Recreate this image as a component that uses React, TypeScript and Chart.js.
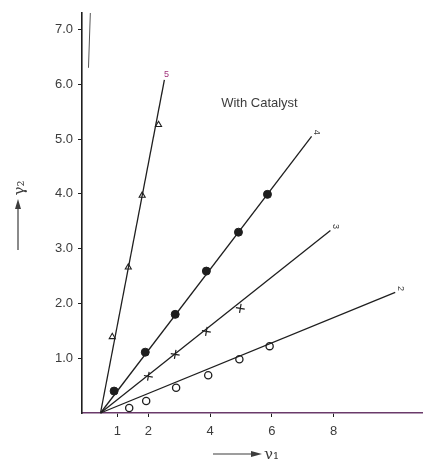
import React, { useEffect, useRef } from "react";
import { Chart, registerables } from "chart.js";

Chart.register(...registerables);

// ---- data ----
const lineLabels = ["5", "4", "3", "2"];
const lineStartX = 0.45;
const lineEndX = [2.52, 7.29, 7.9, 10.0];
const lineEndY = [6.08, 5.05, 3.33, 2.2];

const triX = [0.83, 1.35, 1.8, 2.33];
const triY = [1.39, 2.66, 3.97, 5.26];
const dotX = [0.89, 1.9, 2.87, 3.88, 4.92, 5.86];
const dotY = [0.4, 1.11, 1.8, 2.59, 3.3, 3.99];
const crossX = [2.0, 2.87, 3.88, 4.98];
const crossY = [0.67, 1.07, 1.49, 1.91];
const ringX = [1.38, 1.93, 2.9, 3.94, 4.95, 5.93];
const ringY = [0.09, 0.22, 0.46, 0.69, 0.98, 1.22];

const strayX = [0.06, 0.12];
const strayY = [6.3, 7.3];

const xTickValues = [1, 2, 4, 6, 8];
const yTickValues = [1, 2, 3, 4, 5, 6, 7];
const annotationText = "With Catalyst";

const INK = "#1e1e1e";
const TEXT = "#3c3c3c";
const FONT = "'Liberation Sans', Arial, sans-serif";

const pts = (xs: number[], ys: number[]) => xs.map((x, i) => ({ x, y: ys[i] }));

export default function App() {
  const ref = useRef<HTMLCanvasElement | null>(null);

  useEffect(() => {
    document.body.style.margin = "0";
    const canvas = ref.current;
    if (!canvas) return;

    const lineSets = lineLabels.map((lab, i) => ({
      label: "line " + lab,
      data: [
        { x: lineStartX, y: 0 },
        { x: lineEndX[i], y: lineEndY[i] },
      ],
      showLine: true,
      borderColor: INK,
      borderWidth: 1.3,
      pointRadius: 0,
      fill: false,
    }));

    const annot = {
      id: "annot",
      afterDraw(chart: any) {
        const ctx = chart.ctx;
        const xs = chart.scales.x;
        const ys = chart.scales.y;
        ctx.save();
        // "With Catalyst"
        ctx.fillStyle = TEXT;
        ctx.font = `13px ${FONT}`;
        ctx.textAlign = "center";
        ctx.textBaseline = "middle";
        ctx.fillText(annotationText, xs.getPixelForValue(5.6), ys.getPixelForValue(5.65));

        // line end labels
        ctx.font = `9px ${FONT}`;
        lineLabels.forEach((lab, i) => {
          const px = xs.getPixelForValue(lineEndX[i]);
          const py = ys.getPixelForValue(lineEndY[i]);
          ctx.save();
          if (i === 0) {
            ctx.fillStyle = "#a0307a";
            ctx.translate(px + 2, py - 5);
          } else {
            ctx.translate(px + 5, py - 4);
            ctx.rotate(Math.PI / 2);
          }
          ctx.fillText(lab, 0, 0);
          ctx.restore();
        });

        // y axis title: arrow up + gamma2 rotated
        ctx.strokeStyle = TEXT;
        ctx.fillStyle = TEXT;
        ctx.lineWidth = 1.2;
        const ax = 18;
        ctx.beginPath();
        ctx.moveTo(ax, 250);
        ctx.lineTo(ax, 206);
        ctx.stroke();
        ctx.beginPath();
        ctx.moveTo(ax, 199);
        ctx.lineTo(ax - 3, 209);
        ctx.lineTo(ax + 3, 209);
        ctx.closePath();
        ctx.fill();
        ctx.save();
        ctx.translate(ax + 2, 188);
        ctx.rotate(-Math.PI / 2);
        ctx.font = `15px 'DejaVu Serif', serif`;
        ctx.textAlign = "center";
        ctx.textBaseline = "middle";
        ctx.fillText("γ₂", 0, 0);
        ctx.restore();

        // x axis title: arrow right + gamma1
        const ay = 454;
        ctx.beginPath();
        ctx.moveTo(213, ay);
        ctx.lineTo(253, ay);
        ctx.stroke();
        ctx.beginPath();
        ctx.moveTo(262, ay);
        ctx.lineTo(251, ay - 3);
        ctx.lineTo(251, ay + 3);
        ctx.closePath();
        ctx.fill();
        ctx.font = `15px 'DejaVu Serif', serif`;
        ctx.textAlign = "left";
        ctx.textBaseline = "middle";
        ctx.fillText("γ₁", 264, ay + 1);
        ctx.restore();
      },
    };

    const chart = new Chart(canvas, {
      type: "scatter",
      data: {
        datasets: [
          ...lineSets,
          {
            label: "stray",
            data: pts(strayX, strayY),
            showLine: true,
            borderColor: "#555",
            borderWidth: 1,
            pointRadius: 0,
          },
          {
            label: "5 (triangles)",
            data: pts(triX, triY),
            pointStyle: "triangle",
            pointRadius: 3.5,
            backgroundColor: "#ffffff",
            borderColor: INK,
            borderWidth: 1.1,
          },
          {
            label: "4 (filled)",
            data: pts(dotX, dotY),
            pointStyle: "circle",
            pointRadius: 4,
            backgroundColor: INK,
            borderColor: INK,
            borderWidth: 1,
          },
          {
            label: "3 (crosses)",
            data: pts(crossX, crossY),
            pointStyle: "cross",
            pointRadius: 4.5,
            rotation: 10,
            borderColor: INK,
            borderWidth: 1.2,
          },
          {
            label: "2 (rings)",
            data: pts(ringX, ringY),
            pointStyle: "circle",
            pointRadius: 3.6,
            backgroundColor: "#ffffff",
            borderColor: INK,
            borderWidth: 1.3,
          },
        ],
      },
      options: {
        responsive: false,
        animation: false,
        clip: false,
        layout: { autoPadding: false, padding: { top: 13, right: 0, left: 0, bottom: 0 } },
        plugins: {
          legend: { display: false },
          tooltip: { enabled: false },
        },
        scales: {
          x: {
            type: "linear",
            min: -0.15,
            max: 10.9,
            afterBuildTicks: (s: any) => {
              s.ticks = xTickValues.map((v) => ({ value: v }));
            },
            afterFit: (s: any) => {
              s.height = 46;
            },
            ticks: {
              color: TEXT,
              font: { family: FONT, size: 13 },
              padding: 7,
              maxRotation: 0,
              callback: (v: any) => String(v),
            },
            grid: {
              display: true,
              drawOnChartArea: false,
              drawTicks: true,
              tickLength: 4,
              color: INK,
            },
            border: { display: true, color: "#6a3a6a", width: 1.6 },
          },
          y: {
            type: "linear",
            min: 0,
            max: 7.3,
            afterBuildTicks: (s: any) => {
              s.ticks = yTickValues.map((v) => ({ value: v }));
            },
            afterFit: (s: any) => {
              s.width = 82;
            },
            ticks: {
              color: TEXT,
              font: { family: FONT, size: 13 },
              padding: 5,
              callback: (v: any) => Number(v).toFixed(1),
            },
            grid: {
              display: true,
              drawOnChartArea: false,
              drawTicks: true,
              tickLength: 4,
              color: INK,
            },
            border: { display: true, color: INK, width: 1.6 },
          },
        },
      },
      plugins: [annot],
    } as any);

    return () => chart.destroy();
  }, []);

  return (
    <div style={{ position: "absolute", left: 0, top: 0, width: 423, height: 459, background: "#fff" }}>
      <canvas ref={ref} width={423} height={459} />
    </div>
  );
}
